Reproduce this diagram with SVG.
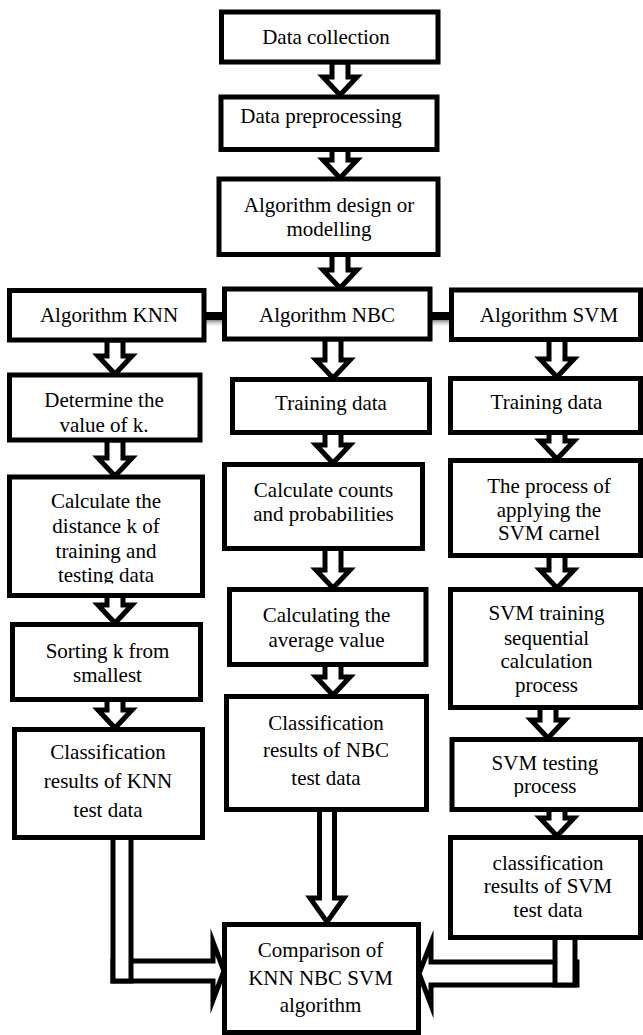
<svg xmlns="http://www.w3.org/2000/svg" width="643" height="1035" viewBox="0 0 643 1035">
<style>
.box{fill:#fff;stroke:#000;stroke-width:5}
.arr{fill:#fff;stroke:#000;stroke-width:5;stroke-linejoin:miter;stroke-miterlimit:10}
.bar{fill:#000}
text{font-family:"Liberation Serif","Times New Roman",serif;font-size:21px;fill:#000;text-anchor:middle}
</style>
<defs>
<linearGradient id="sh" x1="0" y1="0" x2="0" y2="1">
<stop offset="0" stop-color="#888"/>
<stop offset="1" stop-color="#fff" stop-opacity="0"/>
</linearGradient>
<clipPath id="c1"><rect x="0" y="470" width="220" height="113.5"/></clipPath>
<clipPath id="c2"><rect x="440" y="740" width="203" height="57"/></clipPath>
</defs>
<rect width="643" height="1035" fill="#fff"/>

<g id="connectors">
<path class="arr" d="M332,62V77H323L340,95L357,77H348V62Z"/>
<path class="arr" d="M332,149.5V160H323L340,178L357,160H348V149.5Z"/>
<path class="arr" d="M332,254.5V270H323L340,288L357,270H348V254.5Z"/>
<path class="arr" d="M107,340V356H98L115,374L132,356H123V340Z"/>
<path class="arr" d="M325,339V360H316L333,378L350,360H341V339Z"/>
<path class="arr" d="M549,339.5V359H540L557,377L574,359H565V339.5Z"/>
<path class="arr" d="M107,440V458H98L115,476L132,458H123V440Z"/>
<path class="arr" d="M325,432.5V445H316L333,463L350,445H341V432.5Z"/>
<path class="arr" d="M549,432.5V441H540L557,459L574,441H565V432.5Z"/>
<path class="arr" d="M107,595.5V605H98L115,623L132,605H123V595.5Z"/>
<path class="arr" d="M325,548.5V570H316L333,588L350,570H341V548.5Z"/>
<path class="arr" d="M549,555.5V570H540L557,588L574,570H565V555.5Z"/>
<path class="arr" d="M107,699.5V710H98L115,728L132,710H123V699.5Z"/>
<path class="arr" d="M325,664.5V677H316L333,695L350,677H341V664.5Z"/>
<path class="arr" d="M540,707.5V720H531L548,738L565,720H556V707.5Z"/>
<path class="arr" d="M549,809.5V818H540L557,836L574,818H565V809.5Z"/>
<path class="arr" d="M319.5,809.5V898H310L327,922L344,898H334.5V809.5Z"/>
<rect x="204" y="320" width="21" height="8" fill="url(#sh)"/>
<rect class="bar" x="204" y="312" width="21" height="8"/>
<rect x="430" y="320" width="22" height="8" fill="url(#sh)"/>
<rect class="bar" x="430" y="312" width="22" height="8"/>
<path class="arr" d="M113,961H213V942L224,971L213,1000V981H113Z"/>
<path class="arr" d="M113,837V981H131V837" fill="none"/>
<path class="arr" d="M577,962H431V943L419,973.5L431,1005V985H577Z"/>
<path class="arr" d="M555,937.5V985H575V937.5" fill="none"/>
</g>

<g id="data-collection">
<rect class="box" x="221.5" y="12" width="216.5" height="50"/>
<text x="326" y="44">Data collection</text>
</g>
<g id="data-preprocessing">
<rect class="box" x="221" y="97" width="216" height="52.5"/>
<text x="321" y="123">Data preprocessing</text>
</g>
<g id="algorithm-design">
<rect class="box" x="219" y="179" width="219" height="75.5"/>
<text x="329" y="212">Algorithm design or</text>
<text x="329" y="236">modelling</text>
</g>
<g id="algorithm-knn">
<rect class="box" x="9.5" y="290.5" width="194.5" height="49.5"/>
<text x="109" y="322">Algorithm KNN</text>
</g>
<g id="algorithm-nbc">
<rect class="box" x="224.5" y="289" width="205.5" height="50"/>
<text x="327" y="322">Algorithm NBC</text>
</g>
<g id="algorithm-svm">
<rect class="box" x="451.5" y="290" width="189" height="49.5"/>
<text x="549" y="322">Algorithm SVM</text>
</g>
<g id="knn-determine-k">
<rect class="box" x="9.5" y="375" width="190.5" height="65"/>
<text x="104" y="407">Determine the</text>
<text x="104" y="432">value of k.</text>
</g>
<g id="nbc-training">
<rect class="box" x="232.5" y="379.5" width="197" height="53"/>
<text x="331" y="410">Training data</text>
</g>
<g id="svm-training">
<rect class="box" x="450.5" y="378.5" width="190" height="54"/>
<text x="546.5" y="408.5">Training data</text>
</g>
<g id="knn-distance">
<rect class="box" x="9.5" y="477" width="193" height="118.5"/>
<g clip-path="url(#c1)">
<text x="106" y="508">Calculate the</text>
<text x="106" y="533">distance k of</text>
<text x="106" y="558">training and</text>
<text x="106" y="582">testing data</text>
</g>
</g>
<g id="nbc-counts">
<rect class="box" x="224.5" y="464.5" width="198" height="84"/>
<text x="323.5" y="497">Calculate counts</text>
<text x="323.5" y="521">and probabilities</text>
</g>
<g id="svm-kernel">
<rect class="box" x="450.5" y="460.5" width="190" height="95"/>
<text x="549" y="493">The process of</text>
<text x="549" y="517">applying the</text>
<text x="549" y="540">SVM carnel</text>
</g>
<g id="knn-sorting">
<rect class="box" x="12.5" y="624.5" width="188" height="75"/>
<text x="107.5" y="658">Sorting k from</text>
<text x="107.5" y="682">smallest</text>
</g>
<g id="nbc-average">
<rect class="box" x="229.5" y="589.5" width="196.5" height="75"/>
<text x="326.5" y="622">Calculating the</text>
<text x="326.5" y="647">average value</text>
</g>
<g id="svm-sequential">
<rect class="box" x="450.5" y="589.5" width="190" height="118"/>
<text x="546.5" y="620">SVM training</text>
<text x="546.5" y="645">sequential</text>
<text x="546.5" y="668">calculation</text>
<text x="546.5" y="692">process</text>
</g>
<g id="knn-result">
<rect class="box" x="14.5" y="729.5" width="188" height="108"/>
<text x="108" y="759">Classification</text>
<text x="108" y="788">results of KNN</text>
<text x="108" y="817">test data</text>
</g>
<g id="nbc-result">
<rect class="box" x="226.5" y="696.5" width="200" height="113"/>
<text x="326" y="730">Classification</text>
<text x="326" y="757">results of NBC</text>
<text x="326" y="785">test data</text>
</g>
<g id="svm-testing">
<rect class="box" x="452" y="739.5" width="188.5" height="70"/>
<g clip-path="url(#c2)">
<text x="545" y="770">SVM testing</text>
<text x="545" y="793">process</text>
</g>
</g>
<g id="svm-result">
<rect class="box" x="450.5" y="837.5" width="190" height="100"/>
<text x="548" y="870">classification</text>
<text x="548" y="893">results of SVM</text>
<text x="548" y="917">test data</text>
</g>
<g id="comparison">
<rect class="box" x="224.5" y="924.5" width="194" height="108"/>
<text x="320.5" y="957">Comparison of</text>
<text x="320.5" y="985">KNN NBC SVM</text>
<text x="320.5" y="1012">algorithm</text>
</g>
</svg>
